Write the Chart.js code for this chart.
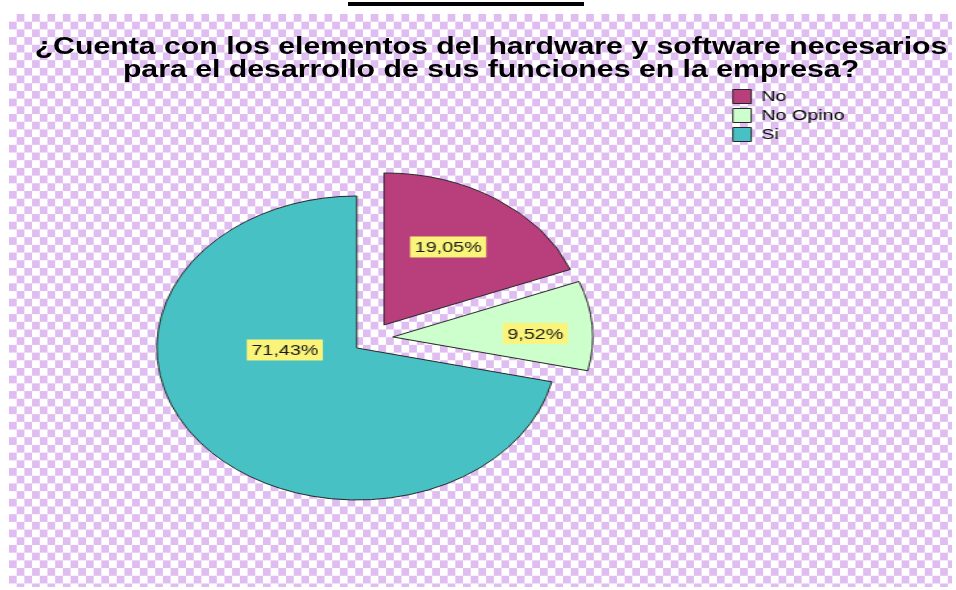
<!DOCTYPE html>
<html><head><meta charset="utf-8">
<script src="https://cdn.jsdelivr.net/npm/chart.js@4.4.1/dist/chart.umd.min.js"></script>
<style>
html,body{margin:0;padding:0;width:956px;height:590px;overflow:hidden;background:#fff}
body{position:relative}
#bar{position:absolute;left:348px;top:2px;width:236px;height:4px;background:#000}
#bg{position:absolute;left:9px;top:14px;width:943px;height:573px;background-color:#fff;
  background-image:conic-gradient(#dfbdf0 25%, transparent 0 50%, #dfbdf0 0 75%, transparent 0);
  background-size:15.4px 15.4px}
#title{position:absolute;left:0;top:34.5px;width:982px;text-align:center;
  font:bold 23px/23px "Liberation Sans",Arial,sans-serif;color:#000;
  transform:scaleX(1.315);transform-origin:491px 0;white-space:nowrap}
#c{position:absolute;left:-13.7px;top:0}
</style></head>
<body>
<div id="bar"></div>
<div id="bg"></div>
<canvas id="c" width="738" height="612" style="width:970.5px;height:612px"></canvas>
<div id="title"></div>
<script>
// ---- data ----
const titleLines = ['¿Cuenta con los elementos del hardware y software necesarios',
                    'para el desarrollo de sus funciones en la empresa?'];
const categories = ['No', 'No Opino', 'Si'];
const percentValues = [19.05, 9.52, 71.43];

// ---- styles ----
const sliceColors = ['#b83e7c', '#cdffcd', '#47c1c4'];
const explodeDistance = [31, 29.5, 0];      // px, pulled-out slices
const explodeAngle = [42, 68, 0];           // deg clockwise from 12 o'clock
const labelRadiusFrac = [0.605, 0.713, 0.36];
const labelTurnDeg = [-2.3, 2.4, 36.5];
const FONT = '"Liberation Sans", Arial, sans-serif';

document.getElementById('title').innerHTML = titleLines.join('<br>');

const explodePlugin = {
  id: 'explode',
  afterDatasetsUpdate(chart) {
    const meta = chart.getDatasetMeta(0);
    meta.data.forEach((arc, i) => {
      const d = explodeDistance[i];
      if (!d) return;
      const a = (explodeAngle[i] - 90) * Math.PI / 180;
      arc.x += Math.cos(a) * d;
      arc.y += Math.sin(a) * d;
    });
  }
};

const labelPlugin = {
  id: 'pctLabels',
  afterDatasetsDraw(chart) {
    const ctx = chart.ctx;
    const meta = chart.getDatasetMeta(0);
    const ds = chart.data.datasets[0].data;
    ctx.save();
    ctx.font = '15px ' + FONT;
    ctx.textAlign = 'center';
    ctx.textBaseline = 'middle';
    meta.data.forEach((arc, i) => {
      const mid = (arc.startAngle + arc.endAngle) / 2 + labelTurnDeg[i] * Math.PI / 180;
      const r = arc.outerRadius * labelRadiusFrac[i];
      const x = arc.x + Math.cos(mid) * r;
      const y = arc.y + Math.sin(mid) * r;
      const txt = ds[i].toFixed(2).replace('.', ',') + '%';
      const w = ctx.measureText(txt).width + 7;
      const h = 21;
      ctx.fillStyle = '#faf57a';
      ctx.fillRect(x - w / 2, y - h / 2, w, h);
      ctx.fillStyle = '#1a1a1a';
      ctx.fillText(txt, x, y + 1);
    });
    ctx.restore();
  }
};

new Chart(document.getElementById('c'), {
  type: 'pie',
  data: {
    labels: categories,
    datasets: [{
      data: percentValues,
      backgroundColor: sliceColors,
      borderColor: '#262626',
      borderWidth: 1,
      radius: 152
    }]
  },
  options: {
    responsive: false,
    animation: false,
    devicePixelRatio: 1,
    events: [],
    radius: 152,
    layout: { padding: { left: 0, right: 75.5, top: 85, bottom: 1 } },
    plugins: {
      title: { display: false },
      tooltip: { enabled: false },
      legend: {
        position: 'right',
        align: 'start',
        labels: {
          boxWidth: 14, boxHeight: 14, padding: 4,
          color: '#000',
          font: { family: FONT, size: 15 }
        }
      }
    }
  },
  plugins: [explodePlugin, labelPlugin]
});
</script>
</body></html>
